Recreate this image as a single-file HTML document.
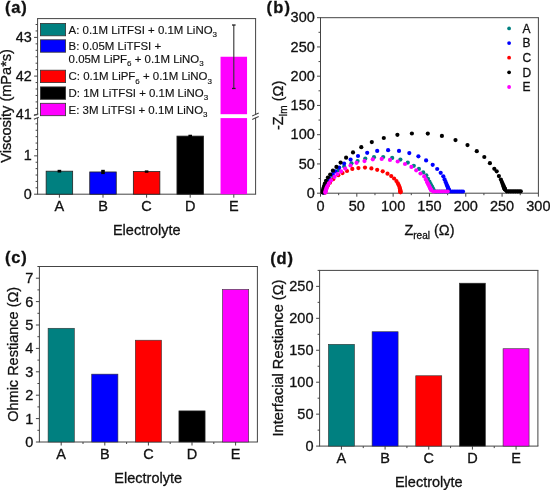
<!DOCTYPE html>
<html><head><meta charset="utf-8"><style>
html,body{margin:0;padding:0;background:#fff;}
svg{display:block;will-change:transform;font-family:"Liberation Sans", sans-serif;}
text{fill:#111;stroke:#111;stroke-width:0.3px;}
.lg{stroke-width:0.15px;}
</style></head><body>
<svg width="550" height="490" viewBox="0 0 550 490">
<rect width="550" height="490" fill="#fff"/>
<line x1="37.1" y1="18.6" x2="256.1" y2="18.6" stroke="#444444" stroke-width="1"/>
<line x1="37.1" y1="194.2" x2="256.1" y2="194.2" stroke="#444444" stroke-width="1"/>
<line x1="37.6" y1="18.6" x2="37.6" y2="114.5" stroke="#444444" stroke-width="1"/>
<line x1="37.6" y1="117.8" x2="37.6" y2="194.2" stroke="#444444" stroke-width="1"/>
<line x1="255.6" y1="18.6" x2="255.6" y2="114.5" stroke="#444444" stroke-width="1"/>
<line x1="255.6" y1="117.8" x2="255.6" y2="194.2" stroke="#444444" stroke-width="1"/>
<line x1="33.9" y1="115.4" x2="38.3" y2="113.7" stroke="#444444" stroke-width="1.1"/>
<line x1="33.9" y1="119.3" x2="38.8" y2="117.3" stroke="#444444" stroke-width="1.1"/>
<line x1="252.2" y1="116" x2="258.7" y2="113" stroke="#444444" stroke-width="1.1"/>
<line x1="252.2" y1="119.4" x2="258.7" y2="116.4" stroke="#444444" stroke-width="1.1"/>
<line x1="34.1" y1="37.4" x2="37.6" y2="37.4" stroke="#444444" stroke-width="1"/>
<text x="31.7" y="42" font-size="14.4" text-anchor="end" font-weight="normal">43</text>
<line x1="34.1" y1="76.1" x2="37.6" y2="76.1" stroke="#444444" stroke-width="1"/>
<text x="31.7" y="80.7" font-size="14.4" text-anchor="end" font-weight="normal">42</text>
<line x1="34.1" y1="114.8" x2="37.6" y2="114.8" stroke="#444444" stroke-width="1"/>
<text x="31.7" y="119.4" font-size="14.4" text-anchor="end" font-weight="normal">41</text>
<line x1="35.6" y1="24.5" x2="37.6" y2="24.5" stroke="#444444" stroke-width="1"/>
<line x1="35.6" y1="30.95" x2="37.6" y2="30.95" stroke="#444444" stroke-width="1"/>
<line x1="35.6" y1="43.85" x2="37.6" y2="43.85" stroke="#444444" stroke-width="1"/>
<line x1="35.6" y1="50.3" x2="37.6" y2="50.3" stroke="#444444" stroke-width="1"/>
<line x1="35.6" y1="56.75" x2="37.6" y2="56.75" stroke="#444444" stroke-width="1"/>
<line x1="35.6" y1="63.2" x2="37.6" y2="63.2" stroke="#444444" stroke-width="1"/>
<line x1="35.6" y1="69.65" x2="37.6" y2="69.65" stroke="#444444" stroke-width="1"/>
<line x1="35.6" y1="82.55" x2="37.6" y2="82.55" stroke="#444444" stroke-width="1"/>
<line x1="35.6" y1="89" x2="37.6" y2="89" stroke="#444444" stroke-width="1"/>
<line x1="35.6" y1="95.45" x2="37.6" y2="95.45" stroke="#444444" stroke-width="1"/>
<line x1="35.6" y1="101.9" x2="37.6" y2="101.9" stroke="#444444" stroke-width="1"/>
<line x1="35.6" y1="108.35" x2="37.6" y2="108.35" stroke="#444444" stroke-width="1"/>
<line x1="34.1" y1="194.2" x2="37.6" y2="194.2" stroke="#444444" stroke-width="1"/>
<text x="31.7" y="198.8" font-size="14.4" text-anchor="end" font-weight="normal">0</text>
<line x1="34.1" y1="155.85" x2="37.6" y2="155.85" stroke="#444444" stroke-width="1"/>
<text x="31.7" y="160.45" font-size="14.4" text-anchor="end" font-weight="normal">1</text>
<line x1="35.6" y1="187.81" x2="37.6" y2="187.81" stroke="#444444" stroke-width="1"/>
<line x1="35.6" y1="181.42" x2="37.6" y2="181.42" stroke="#444444" stroke-width="1"/>
<line x1="35.6" y1="175.02" x2="37.6" y2="175.02" stroke="#444444" stroke-width="1"/>
<line x1="35.6" y1="168.63" x2="37.6" y2="168.63" stroke="#444444" stroke-width="1"/>
<line x1="35.6" y1="162.24" x2="37.6" y2="162.24" stroke="#444444" stroke-width="1"/>
<line x1="35.6" y1="149.46" x2="37.6" y2="149.46" stroke="#444444" stroke-width="1"/>
<line x1="35.6" y1="143.07" x2="37.6" y2="143.07" stroke="#444444" stroke-width="1"/>
<line x1="35.6" y1="136.67" x2="37.6" y2="136.67" stroke="#444444" stroke-width="1"/>
<line x1="35.6" y1="130.28" x2="37.6" y2="130.28" stroke="#444444" stroke-width="1"/>
<line x1="35.6" y1="123.89" x2="37.6" y2="123.89" stroke="#444444" stroke-width="1"/>
<line x1="59.4" y1="194.2" x2="59.4" y2="197.7" stroke="#444444" stroke-width="1"/>
<text x="59.4" y="211" font-size="14.5" text-anchor="middle" font-weight="normal">A</text>
<rect x="46.15" y="171.19" width="26.5" height="23.01" fill="#008080" stroke="#222" stroke-width="0.8"/>
<rect x="57.6" y="169.82" width="3.6" height="2.73" fill="#000"/>
<line x1="103" y1="194.2" x2="103" y2="197.7" stroke="#444444" stroke-width="1"/>
<text x="103" y="211" font-size="14.5" text-anchor="middle" font-weight="normal">B</text>
<rect x="89.75" y="171.96" width="26.5" height="22.24" fill="#0000ff" stroke="#222" stroke-width="0.8"/>
<rect x="101.2" y="169.82" width="3.6" height="4.27" fill="#000"/>
<line x1="146.6" y1="194.2" x2="146.6" y2="197.7" stroke="#444444" stroke-width="1"/>
<text x="146.6" y="211" font-size="14.5" text-anchor="middle" font-weight="normal">C</text>
<rect x="133.35" y="171.57" width="26.5" height="22.63" fill="#ff0000" stroke="#222" stroke-width="0.8"/>
<rect x="144.8" y="170.4" width="3.6" height="2.35" fill="#000"/>
<line x1="190.2" y1="194.2" x2="190.2" y2="197.7" stroke="#444444" stroke-width="1"/>
<text x="190.2" y="211" font-size="14.5" text-anchor="middle" font-weight="normal">D</text>
<rect x="176.95" y="136.1" width="26.5" height="58.1" fill="#000000" stroke="#222" stroke-width="0.8"/>
<rect x="188.4" y="134.73" width="3.6" height="2.73" fill="#000"/>
<line x1="233.8" y1="194.2" x2="233.8" y2="197.7" stroke="#444444" stroke-width="1"/>
<text x="233.8" y="211" font-size="14.5" text-anchor="middle" font-weight="normal">E</text>
<rect x="220.55" y="56.75" width="26.5" height="137.45" fill="#ff00ff"/>
<rect x="219.55" y="114.2" width="28.5" height="3.9" fill="#fff"/>
<line x1="233.8" y1="25.02" x2="233.8" y2="88.48" stroke="#333" stroke-width="1.1"/>
<line x1="232" y1="25.02" x2="235.6" y2="25.02" stroke="#222" stroke-width="1.3"/>
<line x1="232" y1="88.48" x2="235.6" y2="88.48" stroke="#222" stroke-width="1.3"/>
<rect x="40.4" y="23.4" width="25.2" height="12.4" fill="#008080" stroke="#333" stroke-width="0.8"/>
<text x="68.6" y="33.6" font-size="11.45" text-anchor="start" font-weight="normal" class="lg">A: 0.1M LiTFSI + 0.1M LiNO<tspan font-size="8" dy="3.2">3</tspan></text>
<rect x="40.4" y="39.8" width="25.2" height="12.4" fill="#0000ff" stroke="#333" stroke-width="0.8"/>
<text x="68.6" y="50" font-size="11.45" text-anchor="start" font-weight="normal" class="lg">B: 0.05M LiTFSI +</text>
<text x="68.6" y="63.1" font-size="11.45" text-anchor="start" font-weight="normal" class="lg">0.05M LiPF<tspan font-size="8" dy="3.2">6</tspan><tspan dy="-3.2"> + 0.1M LiNO</tspan><tspan font-size="8" dy="3.2">3</tspan></text>
<rect x="40.4" y="70.2" width="25.2" height="12.4" fill="#ff0000" stroke="#333" stroke-width="0.8"/>
<text x="68.6" y="80.4" font-size="11.45" text-anchor="start" font-weight="normal" class="lg">C: 0.1M LiPF<tspan font-size="8" dy="3.2">6</tspan><tspan dy="-3.2"> + 0.1M LiNO</tspan><tspan font-size="8" dy="3.2">3</tspan></text>
<rect x="40.4" y="86.9" width="25.2" height="12.4" fill="#000000" stroke="#333" stroke-width="0.8"/>
<text x="68.6" y="97.1" font-size="11.45" text-anchor="start" font-weight="normal" class="lg">D: 1M LiTFSI + 0.1M LiNO<tspan font-size="8" dy="3.2">3</tspan></text>
<rect x="40.4" y="103.3" width="25.2" height="12.4" fill="#ff00ff" stroke="#333" stroke-width="0.8"/>
<text x="68.6" y="113.5" font-size="11.45" text-anchor="start" font-weight="normal" class="lg">E: 3M LiTFSI + 0.1M LiNO<tspan font-size="8" dy="3.2">3</tspan></text>
<text x="146.8" y="234.6" font-size="14.5" text-anchor="middle" font-weight="normal">Electrolyte</text>
<text transform="translate(11.2,105.9) rotate(-90)" font-size="14.55" text-anchor="middle">Viscosity (mPa*s)</text>
<text x="5" y="12.6" font-size="16.5" text-anchor="start" font-weight="bold" letter-spacing="0.8">(a)</text>
<line x1="320" y1="17.7" x2="538.9" y2="17.7" stroke="#444444" stroke-width="1"/>
<line x1="320" y1="193.2" x2="538.9" y2="193.2" stroke="#444444" stroke-width="1"/>
<line x1="320.5" y1="17.7" x2="320.5" y2="193.2" stroke="#444444" stroke-width="1"/>
<line x1="538.4" y1="17.7" x2="538.4" y2="193.2" stroke="#444444" stroke-width="1"/>
<line x1="317" y1="193.2" x2="320.5" y2="193.2" stroke="#444444" stroke-width="1"/>
<text x="314.8" y="197.9" font-size="14.5" text-anchor="end" font-weight="normal">0</text>
<line x1="320.5" y1="193.2" x2="320.5" y2="196.7" stroke="#444444" stroke-width="1"/>
<text x="320.5" y="210.6" font-size="14.5" text-anchor="middle" font-weight="normal">0</text>
<line x1="318.5" y1="178.57" x2="320.5" y2="178.57" stroke="#444444" stroke-width="1"/>
<line x1="338.66" y1="193.2" x2="338.66" y2="195.2" stroke="#444444" stroke-width="1"/>
<line x1="317" y1="163.95" x2="320.5" y2="163.95" stroke="#444444" stroke-width="1"/>
<text x="314.8" y="168.65" font-size="14.5" text-anchor="end" font-weight="normal">50</text>
<line x1="356.82" y1="193.2" x2="356.82" y2="196.7" stroke="#444444" stroke-width="1"/>
<text x="356.82" y="210.6" font-size="14.5" text-anchor="middle" font-weight="normal">50</text>
<line x1="318.5" y1="149.32" x2="320.5" y2="149.32" stroke="#444444" stroke-width="1"/>
<line x1="374.98" y1="193.2" x2="374.98" y2="195.2" stroke="#444444" stroke-width="1"/>
<line x1="317" y1="134.7" x2="320.5" y2="134.7" stroke="#444444" stroke-width="1"/>
<text x="314.8" y="139.4" font-size="14.5" text-anchor="end" font-weight="normal">100</text>
<line x1="393.13" y1="193.2" x2="393.13" y2="196.7" stroke="#444444" stroke-width="1"/>
<text x="393.13" y="210.6" font-size="14.5" text-anchor="middle" font-weight="normal">100</text>
<line x1="318.5" y1="120.07" x2="320.5" y2="120.07" stroke="#444444" stroke-width="1"/>
<line x1="411.29" y1="193.2" x2="411.29" y2="195.2" stroke="#444444" stroke-width="1"/>
<line x1="317" y1="105.45" x2="320.5" y2="105.45" stroke="#444444" stroke-width="1"/>
<text x="314.8" y="110.15" font-size="14.5" text-anchor="end" font-weight="normal">150</text>
<line x1="429.45" y1="193.2" x2="429.45" y2="196.7" stroke="#444444" stroke-width="1"/>
<text x="429.45" y="210.6" font-size="14.5" text-anchor="middle" font-weight="normal">150</text>
<line x1="318.5" y1="90.82" x2="320.5" y2="90.82" stroke="#444444" stroke-width="1"/>
<line x1="447.61" y1="193.2" x2="447.61" y2="195.2" stroke="#444444" stroke-width="1"/>
<line x1="317" y1="76.2" x2="320.5" y2="76.2" stroke="#444444" stroke-width="1"/>
<text x="314.8" y="80.9" font-size="14.5" text-anchor="end" font-weight="normal">200</text>
<line x1="465.77" y1="193.2" x2="465.77" y2="196.7" stroke="#444444" stroke-width="1"/>
<text x="465.77" y="210.6" font-size="14.5" text-anchor="middle" font-weight="normal">200</text>
<line x1="318.5" y1="61.57" x2="320.5" y2="61.57" stroke="#444444" stroke-width="1"/>
<line x1="483.92" y1="193.2" x2="483.92" y2="195.2" stroke="#444444" stroke-width="1"/>
<line x1="317" y1="46.95" x2="320.5" y2="46.95" stroke="#444444" stroke-width="1"/>
<text x="314.8" y="51.65" font-size="14.5" text-anchor="end" font-weight="normal">250</text>
<line x1="502.08" y1="193.2" x2="502.08" y2="196.7" stroke="#444444" stroke-width="1"/>
<text x="502.08" y="210.6" font-size="14.5" text-anchor="middle" font-weight="normal">250</text>
<line x1="318.5" y1="32.32" x2="320.5" y2="32.32" stroke="#444444" stroke-width="1"/>
<line x1="520.24" y1="193.2" x2="520.24" y2="195.2" stroke="#444444" stroke-width="1"/>
<line x1="317" y1="17.7" x2="320.5" y2="17.7" stroke="#444444" stroke-width="1"/>
<text x="314.8" y="22.4" font-size="14.5" text-anchor="end" font-weight="normal">300</text>
<line x1="538.4" y1="193.2" x2="538.4" y2="196.7" stroke="#444444" stroke-width="1"/>
<text x="538.4" y="210.6" font-size="14.5" text-anchor="middle" font-weight="normal">300</text>
<circle cx="324.4" cy="192.6" r="2.1" fill="#008080"/>
<circle cx="324.86" cy="190.43" r="2.1" fill="#008080"/>
<circle cx="325.65" cy="187.77" r="2.1" fill="#008080"/>
<circle cx="326.98" cy="184.51" r="2.1" fill="#008080"/>
<circle cx="329.19" cy="180.57" r="2.1" fill="#008080"/>
<circle cx="332.79" cy="175.83" r="2.1" fill="#008080"/>
<circle cx="338.6" cy="170.2" r="2.1" fill="#008080"/>
<circle cx="344.2" cy="166.5" r="2.1" fill="#008080"/>
<circle cx="351.5" cy="163.3" r="2.1" fill="#008080"/>
<circle cx="357.6" cy="161.1" r="2.1" fill="#008080"/>
<circle cx="365.3" cy="158.6" r="2.1" fill="#008080"/>
<circle cx="374" cy="157.2" r="2.1" fill="#008080"/>
<circle cx="383.2" cy="157" r="2.1" fill="#008080"/>
<circle cx="392.2" cy="157.9" r="2.1" fill="#008080"/>
<circle cx="400.4" cy="159.6" r="2.1" fill="#008080"/>
<circle cx="407.8" cy="162.6" r="2.1" fill="#008080"/>
<circle cx="413.8" cy="165.8" r="2.1" fill="#008080"/>
<circle cx="418.9" cy="168.9" r="2.1" fill="#008080"/>
<circle cx="423.2" cy="172.4" r="2.1" fill="#008080"/>
<circle cx="426.3" cy="175.3" r="2.1" fill="#008080"/>
<circle cx="428.01" cy="178.77" r="2.1" fill="#008080"/>
<circle cx="429.38" cy="181.54" r="2.1" fill="#008080"/>
<circle cx="430.47" cy="183.75" r="2.1" fill="#008080"/>
<circle cx="431.35" cy="185.53" r="2.1" fill="#008080"/>
<circle cx="432.05" cy="186.95" r="2.1" fill="#008080"/>
<circle cx="432.61" cy="188.08" r="2.1" fill="#008080"/>
<circle cx="433.05" cy="188.99" r="2.1" fill="#008080"/>
<circle cx="433.41" cy="189.72" r="2.1" fill="#008080"/>
<circle cx="433.7" cy="190.3" r="2.1" fill="#008080"/>
<circle cx="435.55" cy="191.6" r="2.1" fill="#008080"/>
<circle cx="437.4" cy="191.6" r="2.1" fill="#008080"/>
<circle cx="439.25" cy="191.6" r="2.1" fill="#008080"/>
<circle cx="441.1" cy="191.6" r="2.1" fill="#008080"/>
<circle cx="442.95" cy="191.6" r="2.1" fill="#008080"/>
<circle cx="444.8" cy="191.6" r="2.1" fill="#008080"/>
<circle cx="446.65" cy="191.6" r="2.1" fill="#008080"/>
<circle cx="448.5" cy="191.6" r="2.1" fill="#008080"/>
<circle cx="323.6" cy="192.6" r="2.1" fill="#0000ff"/>
<circle cx="323.76" cy="191.58" r="2.1" fill="#0000ff"/>
<circle cx="324" cy="190.32" r="2.1" fill="#0000ff"/>
<circle cx="324.37" cy="188.76" r="2.1" fill="#0000ff"/>
<circle cx="324.95" cy="186.84" r="2.1" fill="#0000ff"/>
<circle cx="325.84" cy="184.5" r="2.1" fill="#0000ff"/>
<circle cx="327.24" cy="181.65" r="2.1" fill="#0000ff"/>
<circle cx="329.41" cy="178.21" r="2.1" fill="#0000ff"/>
<circle cx="332.8" cy="174.1" r="2.1" fill="#0000ff"/>
<circle cx="335.5" cy="171.4" r="2.1" fill="#0000ff"/>
<circle cx="339.2" cy="167.6" r="2.1" fill="#0000ff"/>
<circle cx="344.1" cy="163.6" r="2.1" fill="#0000ff"/>
<circle cx="350.6" cy="159.6" r="2.1" fill="#0000ff"/>
<circle cx="358" cy="156" r="2.1" fill="#0000ff"/>
<circle cx="367.2" cy="152.8" r="2.1" fill="#0000ff"/>
<circle cx="377.2" cy="150.9" r="2.1" fill="#0000ff"/>
<circle cx="388.1" cy="150.2" r="2.1" fill="#0000ff"/>
<circle cx="399" cy="150.9" r="2.1" fill="#0000ff"/>
<circle cx="409.3" cy="153.1" r="2.1" fill="#0000ff"/>
<circle cx="418.4" cy="156.3" r="2.1" fill="#0000ff"/>
<circle cx="426.1" cy="160.4" r="2.1" fill="#0000ff"/>
<circle cx="432.7" cy="164.8" r="2.1" fill="#0000ff"/>
<circle cx="437.2" cy="169" r="2.1" fill="#0000ff"/>
<circle cx="440.7" cy="172.8" r="2.1" fill="#0000ff"/>
<circle cx="443.3" cy="176.3" r="2.1" fill="#0000ff"/>
<circle cx="444.58" cy="179.44" r="2.1" fill="#0000ff"/>
<circle cx="445.6" cy="181.95" r="2.1" fill="#0000ff"/>
<circle cx="446.42" cy="183.95" r="2.1" fill="#0000ff"/>
<circle cx="447.07" cy="185.56" r="2.1" fill="#0000ff"/>
<circle cx="447.59" cy="186.84" r="2.1" fill="#0000ff"/>
<circle cx="448.01" cy="187.87" r="2.1" fill="#0000ff"/>
<circle cx="448.35" cy="188.69" r="2.1" fill="#0000ff"/>
<circle cx="448.61" cy="189.35" r="2.1" fill="#0000ff"/>
<circle cx="448.83" cy="189.88" r="2.1" fill="#0000ff"/>
<circle cx="449" cy="190.3" r="2.1" fill="#0000ff"/>
<circle cx="450.75" cy="191.5" r="2.1" fill="#0000ff"/>
<circle cx="452.5" cy="191.5" r="2.1" fill="#0000ff"/>
<circle cx="454.25" cy="191.5" r="2.1" fill="#0000ff"/>
<circle cx="456" cy="191.5" r="2.1" fill="#0000ff"/>
<circle cx="457.75" cy="191.5" r="2.1" fill="#0000ff"/>
<circle cx="459.5" cy="191.5" r="2.1" fill="#0000ff"/>
<circle cx="461.25" cy="191.5" r="2.1" fill="#0000ff"/>
<circle cx="463" cy="191.5" r="2.1" fill="#0000ff"/>
<circle cx="325" cy="192.6" r="2.1" fill="#ff0000"/>
<circle cx="325.31" cy="191.34" r="2.1" fill="#ff0000"/>
<circle cx="325.8" cy="189.78" r="2.1" fill="#ff0000"/>
<circle cx="326.6" cy="187.87" r="2.1" fill="#ff0000"/>
<circle cx="327.89" cy="185.53" r="2.1" fill="#ff0000"/>
<circle cx="329.93" cy="182.69" r="2.1" fill="#ff0000"/>
<circle cx="333.17" cy="179.27" r="2.1" fill="#ff0000"/>
<circle cx="338.3" cy="175.2" r="2.1" fill="#ff0000"/>
<circle cx="342.5" cy="173.1" r="2.1" fill="#ff0000"/>
<circle cx="347" cy="171" r="2.1" fill="#ff0000"/>
<circle cx="352.3" cy="168.9" r="2.1" fill="#ff0000"/>
<circle cx="358.4" cy="168.1" r="2.1" fill="#ff0000"/>
<circle cx="365" cy="167.6" r="2.1" fill="#ff0000"/>
<circle cx="371.4" cy="168.4" r="2.1" fill="#ff0000"/>
<circle cx="377.2" cy="169.8" r="2.1" fill="#ff0000"/>
<circle cx="382.7" cy="171.3" r="2.1" fill="#ff0000"/>
<circle cx="387.5" cy="173.7" r="2.1" fill="#ff0000"/>
<circle cx="391.2" cy="176.1" r="2.1" fill="#ff0000"/>
<circle cx="394.1" cy="178.5" r="2.1" fill="#ff0000"/>
<circle cx="396.42" cy="181.11" r="2.1" fill="#ff0000"/>
<circle cx="397.91" cy="183.4" r="2.1" fill="#ff0000"/>
<circle cx="398.87" cy="185.36" r="2.1" fill="#ff0000"/>
<circle cx="399.48" cy="187.01" r="2.1" fill="#ff0000"/>
<circle cx="399.87" cy="188.38" r="2.1" fill="#ff0000"/>
<circle cx="400.12" cy="189.51" r="2.1" fill="#ff0000"/>
<circle cx="400.29" cy="190.44" r="2.1" fill="#ff0000"/>
<circle cx="400.39" cy="191.19" r="2.1" fill="#ff0000"/>
<circle cx="400.46" cy="191.8" r="2.1" fill="#ff0000"/>
<circle cx="400.5" cy="192.3" r="2.1" fill="#ff0000"/>
<circle cx="322.8" cy="192.6" r="2.1" fill="#000000"/>
<circle cx="322.89" cy="191.77" r="2.1" fill="#000000"/>
<circle cx="323.02" cy="190.74" r="2.1" fill="#000000"/>
<circle cx="323.23" cy="189.46" r="2.1" fill="#000000"/>
<circle cx="323.55" cy="187.9" r="2.1" fill="#000000"/>
<circle cx="324.04" cy="185.99" r="2.1" fill="#000000"/>
<circle cx="324.82" cy="183.66" r="2.1" fill="#000000"/>
<circle cx="326.02" cy="180.85" r="2.1" fill="#000000"/>
<circle cx="327.9" cy="177.5" r="2.1" fill="#000000"/>
<circle cx="330.2" cy="174.5" r="2.1" fill="#000000"/>
<circle cx="332.9" cy="170.7" r="2.1" fill="#000000"/>
<circle cx="336.4" cy="166.9" r="2.1" fill="#000000"/>
<circle cx="340.6" cy="162.6" r="2.1" fill="#000000"/>
<circle cx="346.1" cy="157.7" r="2.1" fill="#000000"/>
<circle cx="353" cy="152.4" r="2.1" fill="#000000"/>
<circle cx="361.3" cy="147.2" r="2.1" fill="#000000"/>
<circle cx="371.8" cy="142.1" r="2.1" fill="#000000"/>
<circle cx="383.8" cy="138" r="2.1" fill="#000000"/>
<circle cx="397.4" cy="134.8" r="2.1" fill="#000000"/>
<circle cx="411.9" cy="133.5" r="2.1" fill="#000000"/>
<circle cx="427.8" cy="133.6" r="2.1" fill="#000000"/>
<circle cx="441.9" cy="135.9" r="2.1" fill="#000000"/>
<circle cx="455.5" cy="140.1" r="2.1" fill="#000000"/>
<circle cx="467.5" cy="145.1" r="2.1" fill="#000000"/>
<circle cx="476.8" cy="151.2" r="2.1" fill="#000000"/>
<circle cx="484.3" cy="157" r="2.1" fill="#000000"/>
<circle cx="489.9" cy="163.2" r="2.1" fill="#000000"/>
<circle cx="494.3" cy="168.8" r="2.1" fill="#000000"/>
<circle cx="496.7" cy="171.3" r="2.1" fill="#000000"/>
<circle cx="498.9" cy="176.1" r="2.1" fill="#000000"/>
<circle cx="500.9" cy="179.6" r="2.1" fill="#000000"/>
<circle cx="501.82" cy="181.84" r="2.1" fill="#000000"/>
<circle cx="502.55" cy="183.63" r="2.1" fill="#000000"/>
<circle cx="503.14" cy="185.07" r="2.1" fill="#000000"/>
<circle cx="503.61" cy="186.21" r="2.1" fill="#000000"/>
<circle cx="503.99" cy="187.13" r="2.1" fill="#000000"/>
<circle cx="504.29" cy="187.87" r="2.1" fill="#000000"/>
<circle cx="504.53" cy="188.45" r="2.1" fill="#000000"/>
<circle cx="504.72" cy="188.92" r="2.1" fill="#000000"/>
<circle cx="504.88" cy="189.3" r="2.1" fill="#000000"/>
<circle cx="505" cy="189.6" r="2.1" fill="#000000"/>
<circle cx="506.76" cy="191.3" r="2.1" fill="#000000"/>
<circle cx="508.51" cy="191.3" r="2.1" fill="#000000"/>
<circle cx="510.27" cy="191.3" r="2.1" fill="#000000"/>
<circle cx="512.02" cy="191.3" r="2.1" fill="#000000"/>
<circle cx="513.78" cy="191.3" r="2.1" fill="#000000"/>
<circle cx="515.53" cy="191.3" r="2.1" fill="#000000"/>
<circle cx="517.29" cy="191.3" r="2.1" fill="#000000"/>
<circle cx="519.04" cy="191.3" r="2.1" fill="#000000"/>
<circle cx="520.8" cy="191.3" r="2.1" fill="#000000"/>
<circle cx="325.3" cy="192.6" r="2.1" fill="#ff00ff"/>
<circle cx="325.46" cy="191.73" r="2.1" fill="#ff00ff"/>
<circle cx="325.7" cy="190.66" r="2.1" fill="#ff00ff"/>
<circle cx="326.07" cy="189.34" r="2.1" fill="#ff00ff"/>
<circle cx="326.65" cy="187.71" r="2.1" fill="#ff00ff"/>
<circle cx="327.54" cy="185.73" r="2.1" fill="#ff00ff"/>
<circle cx="328.94" cy="183.31" r="2.1" fill="#ff00ff"/>
<circle cx="331.11" cy="180.39" r="2.1" fill="#ff00ff"/>
<circle cx="334.5" cy="176.9" r="2.1" fill="#ff00ff"/>
<circle cx="337.4" cy="174.1" r="2.1" fill="#ff00ff"/>
<circle cx="341.1" cy="171.4" r="2.1" fill="#ff00ff"/>
<circle cx="345.2" cy="168.6" r="2.1" fill="#ff00ff"/>
<circle cx="350.5" cy="165.5" r="2.1" fill="#ff00ff"/>
<circle cx="356.6" cy="162.8" r="2.1" fill="#ff00ff"/>
<circle cx="364.5" cy="161.1" r="2.1" fill="#ff00ff"/>
<circle cx="372.8" cy="159.3" r="2.1" fill="#ff00ff"/>
<circle cx="381.7" cy="158.9" r="2.1" fill="#ff00ff"/>
<circle cx="390" cy="159.9" r="2.1" fill="#ff00ff"/>
<circle cx="397.7" cy="161.5" r="2.1" fill="#ff00ff"/>
<circle cx="405" cy="164" r="2.1" fill="#ff00ff"/>
<circle cx="411.4" cy="166.9" r="2.1" fill="#ff00ff"/>
<circle cx="416.2" cy="170.3" r="2.1" fill="#ff00ff"/>
<circle cx="420.5" cy="173.5" r="2.1" fill="#ff00ff"/>
<circle cx="424.2" cy="176.4" r="2.1" fill="#ff00ff"/>
<circle cx="425.82" cy="179.59" r="2.1" fill="#ff00ff"/>
<circle cx="427.11" cy="182.14" r="2.1" fill="#ff00ff"/>
<circle cx="428.15" cy="184.18" r="2.1" fill="#ff00ff"/>
<circle cx="428.97" cy="185.81" r="2.1" fill="#ff00ff"/>
<circle cx="429.64" cy="187.12" r="2.1" fill="#ff00ff"/>
<circle cx="430.17" cy="188.16" r="2.1" fill="#ff00ff"/>
<circle cx="430.59" cy="189" r="2.1" fill="#ff00ff"/>
<circle cx="430.93" cy="189.67" r="2.1" fill="#ff00ff"/>
<circle cx="431.2" cy="190.2" r="2.1" fill="#ff00ff"/>
<circle cx="433.26" cy="191.5" r="2.1" fill="#ff00ff"/>
<circle cx="435.32" cy="191.5" r="2.1" fill="#ff00ff"/>
<circle cx="437.39" cy="191.5" r="2.1" fill="#ff00ff"/>
<circle cx="439.45" cy="191.5" r="2.1" fill="#ff00ff"/>
<circle cx="441.51" cy="191.5" r="2.1" fill="#ff00ff"/>
<circle cx="443.57" cy="191.5" r="2.1" fill="#ff00ff"/>
<circle cx="445.64" cy="191.5" r="2.1" fill="#ff00ff"/>
<circle cx="447.7" cy="191.5" r="2.1" fill="#ff00ff"/>
<circle cx="509.1" cy="28.4" r="1.9" fill="#008080"/>
<text x="522.4" y="32.7" font-size="12" text-anchor="start" font-weight="normal">A</text>
<circle cx="509.1" cy="43.05" r="1.9" fill="#0000ff"/>
<text x="522.4" y="47.35" font-size="12" text-anchor="start" font-weight="normal">B</text>
<circle cx="509.1" cy="57.7" r="1.9" fill="#ff0000"/>
<text x="522.4" y="62" font-size="12" text-anchor="start" font-weight="normal">C</text>
<circle cx="509.1" cy="72.35" r="1.9" fill="#000000"/>
<text x="522.4" y="76.65" font-size="12" text-anchor="start" font-weight="normal">D</text>
<circle cx="509.1" cy="87" r="1.9" fill="#ff00ff"/>
<text x="522.4" y="91.3" font-size="12" text-anchor="start" font-weight="normal">E</text>
<text x="404.4" y="234.7" font-size="14.5">Z<tspan font-size="10" dy="4.1">real</tspan><tspan dy="-4.1"> (Ω)</tspan></text>
<text transform="translate(282.8,130.1) rotate(-90)" font-size="14.5">-Z<tspan font-size="10" dy="4.1">Im</tspan><tspan dy="-4.1"> (Ω)</tspan></text>
<text x="266.6" y="12.9" font-size="16.5" text-anchor="start" font-weight="bold" letter-spacing="1.2">(b)</text>
<line x1="38.9" y1="266.5" x2="257.9" y2="266.5" stroke="#444444" stroke-width="1"/>
<line x1="38.9" y1="442" x2="257.9" y2="442" stroke="#444444" stroke-width="1"/>
<line x1="39.4" y1="266.5" x2="39.4" y2="442" stroke="#444444" stroke-width="1"/>
<line x1="257.4" y1="266.5" x2="257.4" y2="442" stroke="#444444" stroke-width="1"/>
<line x1="35.9" y1="442" x2="39.4" y2="442" stroke="#444444" stroke-width="1"/>
<text x="33.4" y="447" font-size="14.5" text-anchor="end" font-weight="normal">0</text>
<line x1="37.4" y1="430.3" x2="39.4" y2="430.3" stroke="#444444" stroke-width="1"/>
<line x1="35.9" y1="418.6" x2="39.4" y2="418.6" stroke="#444444" stroke-width="1"/>
<text x="33.4" y="423.6" font-size="14.5" text-anchor="end" font-weight="normal">1</text>
<line x1="37.4" y1="406.9" x2="39.4" y2="406.9" stroke="#444444" stroke-width="1"/>
<line x1="35.9" y1="395.2" x2="39.4" y2="395.2" stroke="#444444" stroke-width="1"/>
<text x="33.4" y="400.2" font-size="14.5" text-anchor="end" font-weight="normal">2</text>
<line x1="37.4" y1="383.5" x2="39.4" y2="383.5" stroke="#444444" stroke-width="1"/>
<line x1="35.9" y1="371.8" x2="39.4" y2="371.8" stroke="#444444" stroke-width="1"/>
<text x="33.4" y="376.8" font-size="14.5" text-anchor="end" font-weight="normal">3</text>
<line x1="37.4" y1="360.1" x2="39.4" y2="360.1" stroke="#444444" stroke-width="1"/>
<line x1="35.9" y1="348.4" x2="39.4" y2="348.4" stroke="#444444" stroke-width="1"/>
<text x="33.4" y="353.4" font-size="14.5" text-anchor="end" font-weight="normal">4</text>
<line x1="37.4" y1="336.7" x2="39.4" y2="336.7" stroke="#444444" stroke-width="1"/>
<line x1="35.9" y1="325" x2="39.4" y2="325" stroke="#444444" stroke-width="1"/>
<text x="33.4" y="330" font-size="14.5" text-anchor="end" font-weight="normal">5</text>
<line x1="37.4" y1="313.3" x2="39.4" y2="313.3" stroke="#444444" stroke-width="1"/>
<line x1="35.9" y1="301.6" x2="39.4" y2="301.6" stroke="#444444" stroke-width="1"/>
<text x="33.4" y="306.6" font-size="14.5" text-anchor="end" font-weight="normal">6</text>
<line x1="37.4" y1="289.9" x2="39.4" y2="289.9" stroke="#444444" stroke-width="1"/>
<line x1="35.9" y1="278.2" x2="39.4" y2="278.2" stroke="#444444" stroke-width="1"/>
<text x="33.4" y="283.2" font-size="14.5" text-anchor="end" font-weight="normal">7</text>
<line x1="37.4" y1="266.5" x2="39.4" y2="266.5" stroke="#444444" stroke-width="1"/>
<line x1="61.2" y1="442" x2="61.2" y2="445.5" stroke="#444444" stroke-width="1"/>
<line x1="83" y1="442" x2="83" y2="444" stroke="#444444" stroke-width="1"/>
<text x="61.2" y="459.3" font-size="14.5" text-anchor="middle" font-weight="normal">A</text>
<rect x="48.1" y="328.28" width="26.2" height="113.72" fill="#008080" stroke="#333" stroke-width="0.6"/>
<line x1="104.8" y1="442" x2="104.8" y2="445.5" stroke="#444444" stroke-width="1"/>
<line x1="126.6" y1="442" x2="126.6" y2="444" stroke="#444444" stroke-width="1"/>
<text x="104.8" y="459.3" font-size="14.5" text-anchor="middle" font-weight="normal">B</text>
<rect x="91.7" y="374.14" width="26.2" height="67.86" fill="#0000ff" stroke="#333" stroke-width="0.6"/>
<line x1="148.4" y1="442" x2="148.4" y2="445.5" stroke="#444444" stroke-width="1"/>
<line x1="170.2" y1="442" x2="170.2" y2="444" stroke="#444444" stroke-width="1"/>
<text x="148.4" y="459.3" font-size="14.5" text-anchor="middle" font-weight="normal">C</text>
<rect x="135.3" y="340.21" width="26.2" height="101.79" fill="#ff0000" stroke="#333" stroke-width="0.6"/>
<line x1="192" y1="442" x2="192" y2="445.5" stroke="#444444" stroke-width="1"/>
<line x1="213.8" y1="442" x2="213.8" y2="444" stroke="#444444" stroke-width="1"/>
<text x="192" y="459.3" font-size="14.5" text-anchor="middle" font-weight="normal">D</text>
<rect x="178.9" y="410.88" width="26.2" height="31.12" fill="#000000" stroke="#333" stroke-width="0.6"/>
<line x1="235.6" y1="442" x2="235.6" y2="445.5" stroke="#444444" stroke-width="1"/>
<text x="235.6" y="459.3" font-size="14.5" text-anchor="middle" font-weight="normal">E</text>
<rect x="222.5" y="289.43" width="26.2" height="152.57" fill="#ff00ff" stroke="#333" stroke-width="0.6"/>
<text x="148.2" y="483.2" font-size="14.5" text-anchor="middle" font-weight="normal">Electrolyte</text>
<text transform="translate(18.4,354.3) rotate(-90)" font-size="14.5" text-anchor="middle">Ohmic Restiance (Ω)</text>
<text x="5" y="263.3" font-size="16.5" text-anchor="start" font-weight="bold" letter-spacing="0.8">(c)</text>
<line x1="319.1" y1="270.4" x2="538.4" y2="270.4" stroke="#444444" stroke-width="1"/>
<line x1="319.1" y1="446.1" x2="538.4" y2="446.1" stroke="#444444" stroke-width="1"/>
<line x1="319.6" y1="270.4" x2="319.6" y2="446.1" stroke="#444444" stroke-width="1"/>
<line x1="537.9" y1="270.4" x2="537.9" y2="446.1" stroke="#444444" stroke-width="1"/>
<line x1="316.1" y1="446.1" x2="319.6" y2="446.1" stroke="#444444" stroke-width="1"/>
<text x="313.5" y="451.1" font-size="14.5" text-anchor="end" font-weight="normal">0</text>
<line x1="317.6" y1="430.13" x2="319.6" y2="430.13" stroke="#444444" stroke-width="1"/>
<line x1="316.1" y1="414.15" x2="319.6" y2="414.15" stroke="#444444" stroke-width="1"/>
<text x="313.5" y="419.15" font-size="14.5" text-anchor="end" font-weight="normal">50</text>
<line x1="317.6" y1="398.18" x2="319.6" y2="398.18" stroke="#444444" stroke-width="1"/>
<line x1="316.1" y1="382.21" x2="319.6" y2="382.21" stroke="#444444" stroke-width="1"/>
<text x="313.5" y="387.21" font-size="14.5" text-anchor="end" font-weight="normal">100</text>
<line x1="317.6" y1="366.24" x2="319.6" y2="366.24" stroke="#444444" stroke-width="1"/>
<line x1="316.1" y1="350.26" x2="319.6" y2="350.26" stroke="#444444" stroke-width="1"/>
<text x="313.5" y="355.26" font-size="14.5" text-anchor="end" font-weight="normal">150</text>
<line x1="317.6" y1="334.29" x2="319.6" y2="334.29" stroke="#444444" stroke-width="1"/>
<line x1="316.1" y1="318.32" x2="319.6" y2="318.32" stroke="#444444" stroke-width="1"/>
<text x="313.5" y="323.32" font-size="14.5" text-anchor="end" font-weight="normal">200</text>
<line x1="317.6" y1="302.35" x2="319.6" y2="302.35" stroke="#444444" stroke-width="1"/>
<line x1="316.1" y1="286.37" x2="319.6" y2="286.37" stroke="#444444" stroke-width="1"/>
<text x="313.5" y="291.37" font-size="14.5" text-anchor="end" font-weight="normal">250</text>
<line x1="317.6" y1="270.4" x2="319.6" y2="270.4" stroke="#444444" stroke-width="1"/>
<line x1="341.43" y1="446.1" x2="341.43" y2="449.6" stroke="#444444" stroke-width="1"/>
<line x1="363.26" y1="446.1" x2="363.26" y2="448.1" stroke="#444444" stroke-width="1"/>
<text x="341.43" y="463.3" font-size="14.5" text-anchor="middle" font-weight="normal">A</text>
<rect x="328.43" y="344.32" width="26" height="101.78" fill="#008080" stroke="#333" stroke-width="0.6"/>
<line x1="385.09" y1="446.1" x2="385.09" y2="449.6" stroke="#444444" stroke-width="1"/>
<line x1="406.92" y1="446.1" x2="406.92" y2="448.1" stroke="#444444" stroke-width="1"/>
<text x="385.09" y="463.3" font-size="14.5" text-anchor="middle" font-weight="normal">B</text>
<rect x="372.09" y="331.74" width="26" height="114.36" fill="#0000ff" stroke="#333" stroke-width="0.6"/>
<line x1="428.75" y1="446.1" x2="428.75" y2="449.6" stroke="#444444" stroke-width="1"/>
<line x1="450.58" y1="446.1" x2="450.58" y2="448.1" stroke="#444444" stroke-width="1"/>
<text x="428.75" y="463.3" font-size="14.5" text-anchor="middle" font-weight="normal">C</text>
<rect x="415.75" y="375.76" width="26" height="70.34" fill="#ff0000" stroke="#333" stroke-width="0.6"/>
<line x1="472.41" y1="446.1" x2="472.41" y2="449.6" stroke="#444444" stroke-width="1"/>
<line x1="494.24" y1="446.1" x2="494.24" y2="448.1" stroke="#444444" stroke-width="1"/>
<text x="472.41" y="463.3" font-size="14.5" text-anchor="middle" font-weight="normal">D</text>
<rect x="459.41" y="283.18" width="26" height="162.92" fill="#000000" stroke="#333" stroke-width="0.6"/>
<line x1="516.07" y1="446.1" x2="516.07" y2="449.6" stroke="#444444" stroke-width="1"/>
<text x="516.07" y="463.3" font-size="14.5" text-anchor="middle" font-weight="normal">E</text>
<rect x="503.07" y="348.73" width="26" height="97.37" fill="#ff00ff" stroke="#333" stroke-width="0.6"/>
<text x="428.8" y="486.9" font-size="14.5" text-anchor="middle" font-weight="normal">Electrolyte</text>
<text transform="translate(282.6,358.0) rotate(-90)" font-size="14.6" text-anchor="middle">Interfacial Restiance (Ω)</text>
<text x="270.3" y="263.6" font-size="16.5" text-anchor="start" font-weight="bold" letter-spacing="0.8">(d)</text>
</svg></body></html>
